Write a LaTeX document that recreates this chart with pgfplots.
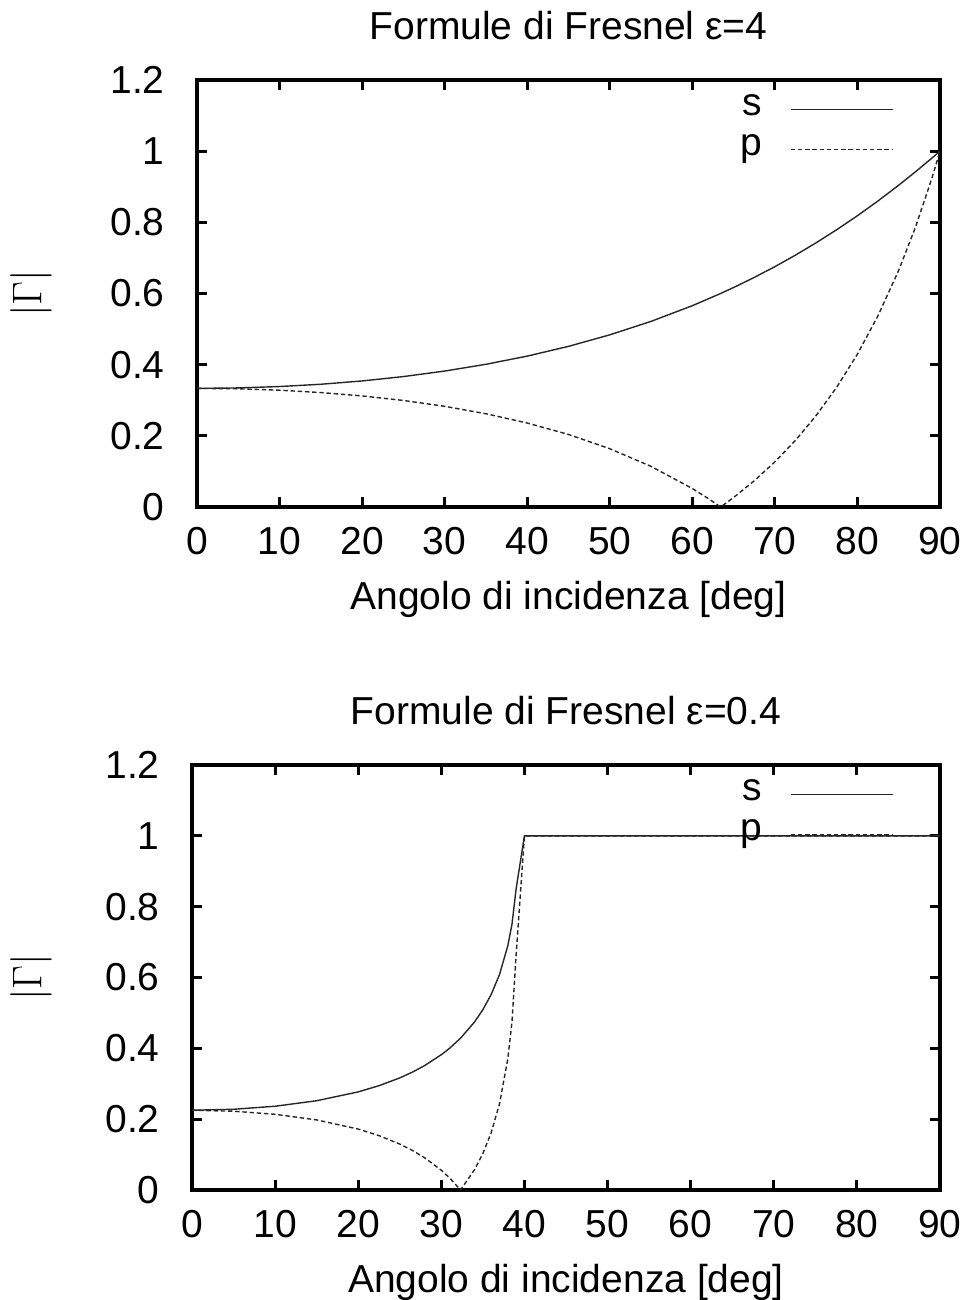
\documentclass[border=0pt]{standalone}
\usepackage{fontspec}
\setmainfont{Liberation Sans}
\usepackage{pgfplots}
\pgfplotsset{compat=1.18}

\pgfplotsset{
  fresnel/.style={
    scale only axis,
    xmin=0, xmax=90, ymin=0, ymax=1.2,
    xtick={0,10,20,30,40,50,60,70,80,90},
    ytick={0,0.2,0.4,0.6,0.8,1,1.2},
    tick align=inside,
    major tick length=5pt,
    every tick/.style={black, line width=1.6pt},
    axis line style={line width=2pt},
    /pgf/number format/assume math mode=true,
    xticklabel style={anchor=center, yshift=-17pt, inner sep=0pt},
    yticklabel style={anchor=east, xshift=-16pt, inner sep=0pt},
    xlabel style={at={([yshift=-46pt]axis description cs:0.5,0)}, anchor=center},
    ylabel style={at={([xshift=-83pt]axis description cs:0,0.5)}, anchor=center},
    title style={at={([yshift=21pt]axis description cs:0.5,1)}, anchor=center},
    xlabel={Angolo di incidenza [deg]},
    ylabel={$|\Gamma|$},
    legend style={draw=none, fill=none, at={([xshift=-23pt,yshift=-7.5pt]axis description cs:1,1)},
      anchor=north east, inner sep=0pt, row sep=6pt, column sep=14pt,
      nodes={inner sep=0pt, text height=10pt, text depth=4pt}},
    legend plot pos=right,
    legend cell align=right,
    legend image code/.code={\draw[##1] (0pt,0pt) -- (51pt,0pt);},
  },
  scurve/.style={black!85, line width=0.7pt},
  pcurve/.style={black!85, line width=0.7pt, dash pattern=on 2.2pt off 1.4pt},
}

\begin{document}
\begin{tikzpicture}[font=\fontsize{19.5}{23}\selectfont]
\path[use as bounding box] (0,0) rectangle (486pt,650pt);

\begin{axis}[fresnel, at={(98.5pt,396.5pt)}, width=371.5pt, height=213.5pt,
  title={Formule di Fresnel ε=4}]
\addplot[scurve] coordinates {
  (0,0.3333) (5,0.3346) (10,0.3385) (15,0.3449) (20,0.3542) (25,0.3665)
  (30,0.3820) (35,0.4010) (40,0.4240) (45,0.4514) (50,0.4838) (55,0.5216)
  (60,0.5657) (63.43,0.6000) (65,0.6168) (67.5,0.6451) (70,0.6754) (72.5,0.7079)
  (75,0.7425) (77.5,0.7794) (80,0.8186) (82.5,0.8602) (85,0.9043) (87,0.9414)
  (89,0.9801) (90,1)
};
\addlegendentry{s}
\addplot[pcurve] coordinates {
  (0,0.3333) (5,0.3321) (10,0.3282) (15,0.3216) (20,0.3121) (25,0.2994)
  (30,0.2829) (35,0.2620) (40,0.2360) (45,0.2038) (50,0.1638) (55,0.1141)
  (60,0.0519) (62,0.0227) (63.43,0)
  (65,0.0266) (67.5,0.0736) (70,0.1268) (72.5,0.1875) (75,0.2570) (77.5,0.3369)
  (80,0.4296) (82.5,0.5378) (85,0.6653) (87,0.7844) (89,0.9225) (90,1)
};
\addlegendentry{p}
\end{axis}

\begin{axis}[fresnel, at={(96pt,55pt)}, width=374pt, height=212.5pt,
  title={Formule di Fresnel ε=0.4},
  ylabel style={at={([xshift=-80.5pt]axis description cs:0,0.5)}}]
\addplot[scurve] coordinates {
  (0,0.2252) (5,0.2279) (10,0.2365) (15,0.2520) (20,0.2770) (22.5,0.2945)
  (25,0.3165) (26.5,0.3326) (28,0.3514) (30,0.3820) (31,0.4003) (32.31,0.4286)
  (34,0.4745) (35,0.5091) (36,0.5521) (37,0.6083) (38,0.6896) (38.5,0.7502)
  (39,0.8503) (40,1) (90,1)
};
\addlegendentry{s}
\addplot[pcurve] coordinates {
  (0,0.2252) (5,0.2224) (10,0.2138) (15,0.1979) (20,0.1720) (22.5,0.1535)
  (25,0.1297) (26.5,0.1120) (28,0.0909) (30,0.0557) (31,0.0341) (32.31,0)
  (34,0.0577) (35,0.1030) (36,0.1618) (37,0.2432) (38,0.3705) (38.5,0.4740)
  (39,0.6634) (40,1) (90,1)
};
\addlegendentry{p}
\end{axis}
\end{tikzpicture}
\end{document}
